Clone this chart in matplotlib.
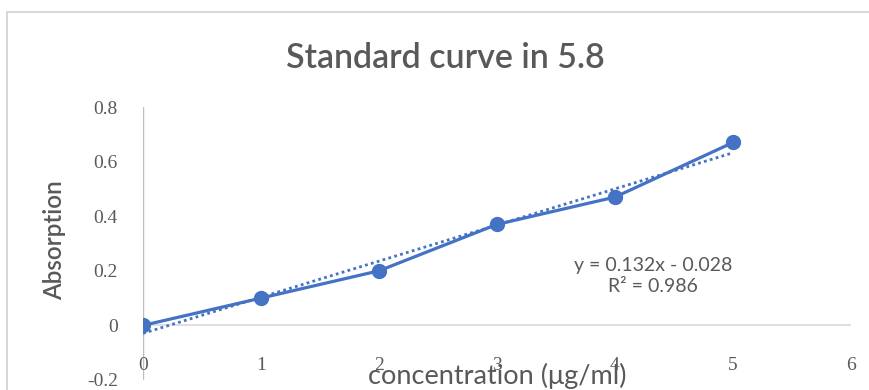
import matplotlib.pyplot as plt
import numpy as np
from matplotlib.patches import Rectangle
from matplotlib.transforms import blended_transform_factory

# dati
concentration = [0, 1, 2, 3, 4, 5]
absorption = [0.0, 0.1, 0.2, 0.37, 0.47, 0.67]
x_ticks = [0, 1, 2, 3, 4, 5, 6]
y_ticks = [-0.2, 0, 0.2, 0.4, 0.6, 0.8]
y_tick_labels = ['-0.2', '0', '0.2', '0.4', '0.6', '0.8']
eq_text = 'y = 0.132x - 0.028\nR² = 0.986'

blu = '#4472C4'
grigio = '#595959'

fig = plt.figure(figsize=(8.69, 3.9), dpi=100)
# bordo del grafico
fig.patches.append(Rectangle((7 / 869, -0.1), 1.2, 1 - 12 / 390 + 0.1,
                             transform=fig.transFigure, fill=False,
                             edgecolor='#D0D0D0', linewidth=1.2))

ax = fig.add_axes([143 / 869, 1 - 380 / 390, (851 - 143) / 869, (380 - 107) / 390])
ax.set_xlim(0, 6)
ax.set_ylim(-0.2, 0.8)
for s in ax.spines.values():
    s.set_visible(False)

# assi
ax.axvline(0, color='#BFBFBF', linewidth=1, zorder=1)
ax.axhline(0, color='#D9D9D9', linewidth=1.2, zorder=1)

# serie e linea di tendenza
ax.plot(concentration, absorption, color=blu, linewidth=2.3, marker='o',
        markersize=10, zorder=3)
coef = np.polyfit(concentration, absorption, 1)
xt = np.array([concentration[0], concentration[-1]])
ax.plot(xt, np.polyval(coef, xt), color=blu, linestyle=(0, (1, 1.2)),
        linewidth=2, zorder=2)

ax.text(4.32, 0.18, eq_text, ha='center', va='center', fontsize=14,
        color=grigio, family='Lato', linespacing=1.3)

# etichette
ax.set_xticks([])
ax.set_yticks(y_ticks)
ax.set_yticklabels(y_tick_labels, family='Liberation Serif', fontsize=14,
                   color=grigio)
ax.tick_params(axis='y', length=0, pad=18)
trans = blended_transform_factory(ax.transData, fig.transFigure)
for t in x_ticks:
    ax.text(t, 1 - 366 / 390, str(t), transform=trans, ha='center',
            va='center', family='Liberation Serif', fontsize=14, color=grigio)

fig.text(497 / 869, 1 - 376 / 390, 'concentration (μg/ml)', ha='center',
         va='center', fontsize=19.5, color=grigio, family='Lato')
fig.text(55 / 869, 1 - 240 / 390, 'Absorption', ha='center', va='center',
         rotation=90, fontsize=17.5, color=grigio, family='Lato',
         weight='semibold')
fig.text(445 / 869, 1 - 58 / 390, 'Standard curve in 5.8', ha='center',
         va='center', fontsize=24.5, color=grigio, family='Lato',
         weight='semibold')

fig.savefig('out.png', dpi=100)
